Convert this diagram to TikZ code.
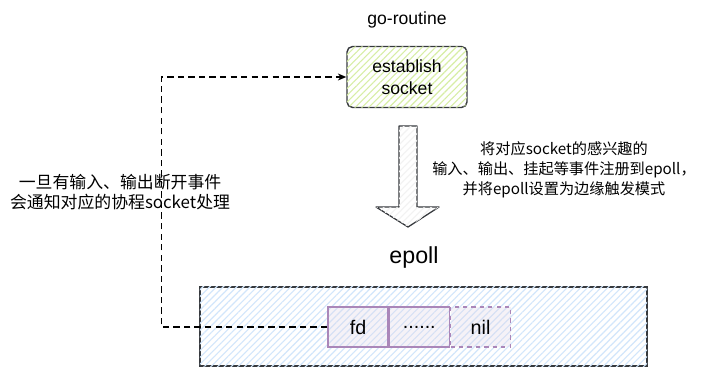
\documentclass[tikz,border=0pt]{standalone}
\usepackage{fontspec}
\setmainfont{Liberation Sans}
\newfontfamily\cjk{Noto Sans CJK SC}
\usepackage{tikz}
\usetikzlibrary{arrows.meta,positioning,patterns.meta}
\definecolor{hatchgreen}{RGB}{215,238,165}
\definecolor{hatchblue}{RGB}{210,230,251}
\definecolor{cellfill}{RGB}{225,213,231}
\definecolor{cellline}{RGB}{170,135,185}
\definecolor{edge}{RGB}{54,57,61}

\begin{document}
\begin{tikzpicture}[
  x=0.025cm,y=-0.025cm,
  hatch/.style={postaction={pattern={Lines[angle=45,distance=3.4pt,line width=0.8pt]},pattern color=#1}},
  procbox/.style={draw=edge,line width=1pt,rounded corners=4pt,fill=white,hatch=hatchgreen,minimum width=3cm,minimum height=1.525cm,align=center,font=\fontsize{12.5}{16}\selectfont},
  pollbox/.style={draw=edge,line width=1pt,fill=white,hatch=hatchblue,minimum width=11.175cm,minimum height=1.975cm},
  cell/.style={draw=cellline,line width=0.9pt,fill=cellfill,fill opacity=0.3,text opacity=1,minimum width=1.5cm,minimum height=1cm,inner sep=0pt,font=\fontsize{14}{16}\selectfont},
  dasharr/.style={-{Stealth[length=6pt,width=5pt]},dash pattern=on 4.5pt off 3pt,line width=0.8pt},
  lbl/.style={font=\fontsize{12.5}{15}\selectfont},
  note/.style={align=center,font=\cjk\fontsize{10.8}{14.2}\selectfont}
]
\useasboundingbox (0,0) rectangle (721,368);

\node[lbl]      (gotitle) at (407,20)  {go-routine};
\node[procbox]  (est)     at (407,77)  {establish\\socket};
\node[font=\fontsize{16.5}{18}\selectfont] (eptitle) at (414,257) {epoll};
\node[pollbox]  (poll)    at (423.5,326.5) {};

\node[cell]                 (fd)   at (358,327) {fd};
\node[cell,right=0pt of fd] (dots) {......};
\node[cell,right=0pt of dots,dashed] (nil) {nil};

% hollow block arrow between go-routine and epoll
\draw[edge,line width=0.9pt,fill=white,hatch=black!5,line join=round]
  (399,126) -- (417,126) -- (417,207) -- (439,207) -- (408,227)
  -- (376,207) -- (399,207) -- cycle;

\node[note] (regnote)  at (564,170) {将对应socket的感兴趣的\\输入、输出、挂起等事件注册到epoll，\\并将epoll设置为边缘触发模式};
\node[note,font=\cjk\fontsize{12}{14.2}\selectfont] (evnote) at (120,192) {一旦有输入、输出断开事件\\会通知对应的协程socket处理};

% fd notifies the go-routine
\draw[dasharr] (fd.west) -- ++(-166,0) |- (est.west);
\end{tikzpicture}
\end{document}
